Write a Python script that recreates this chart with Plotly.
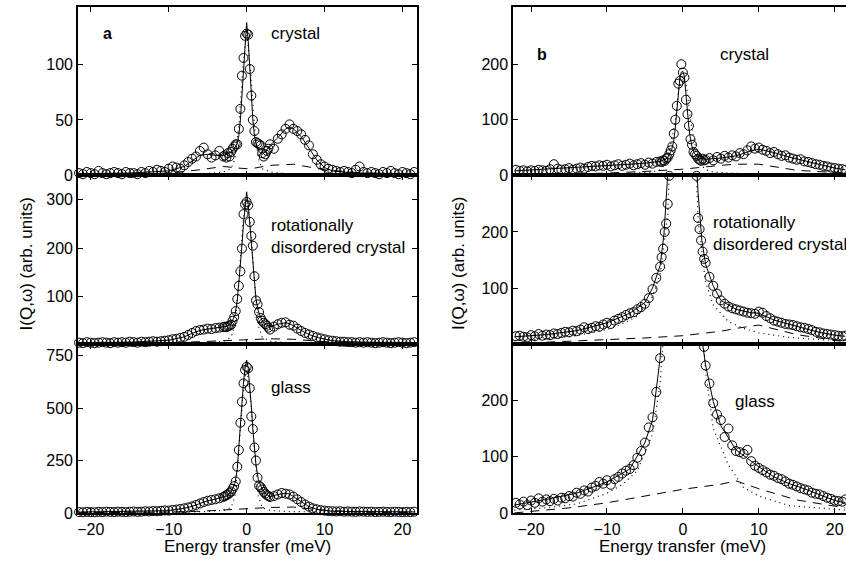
import plotly.graph_objects as go

# ---------------- energy grids (meV) ----------------
XA = [-21.5, -21, -20.5, -20, -19.5, -19, -18.5, -18, -17.5, -17, -16.5, -16, -15.5, -15, -14.5, -14,
      -13.5, -13, -12.5, -12, -11.5, -11, -10.5, -10, -9.5, -9, -8.5, -8, -7.5, -7, -6.5, -6, -5.5, -5,
      -4.5, -4, -3.5, -3,
      -2.8, -2.6, -2.4, -2.2, -2, -1.8, -1.6, -1.4, -1.2, -1, -0.8, -0.6, -0.4, -0.2, 0, 0.2, 0.4, 0.6,
      0.8, 1, 1.2, 1.4, 1.6, 1.8, 2, 2.2, 2.4, 2.6, 2.8,
      3, 3.5, 4, 4.5, 5, 5.5, 6, 6.5, 7, 7.5, 8, 8.5, 9, 9.5, 10, 10.5, 11, 11.5, 12, 12.5, 13, 13.5,
      14, 14.5, 15, 15.5, 16, 16.5, 17, 17.5, 18, 18.5, 19, 19.5, 20, 20.5, 21, 21.5]
XB = [-22, -21.5, -21, -20.5, -20, -19.5, -19, -18.5, -18, -17.5, -17, -16.5, -16, -15.5, -15, -14.5,
      -14, -13.5, -13, -12.5, -12, -11.5, -11, -10.5, -10, -9.5, -9, -8.5, -8, -7.5, -7, -6.5, -6,
      -5.5, -5, -4.5, -4, -3.5, -3,
      -2.8, -2.6, -2.4, -2.2, -2, -1.8, -1.6, -1.4, -1.2, -1, -0.8, -0.6, -0.4, -0.2, 0, 0.2, 0.4, 0.6,
      0.8, 1, 1.2, 1.4, 1.6, 1.8, 2, 2.2, 2.4, 2.6, 2.8,
      3, 3.5, 4, 4.5, 5, 5.5, 6, 6.5, 7, 7.5, 8, 8.5, 9, 9.5, 10, 10.5, 11, 11.5, 12, 12.5, 13, 13.5,
      14, 14.5, 15, 15.5, 16, 16.5, 17, 17.5, 18, 18.5, 19, 19.5, 20, 20.5, 21, 21.4]

# ---------------- measured intensities ----------------
A_CRYSTAL = [2, 1, 3, 2, 1, 4, 2, 1, 2, 3, 2, 1, 3, 2, 2, 1, 3, 2, 4, 3,
             5, 4, 3, 6, 8, 7, 6, 9, 12, 15, 17, 22, 25, 19, 16, 18, 22, 17,
             18, 16, 20, 17, 21, 24, 26, 28, 28, 42, 60, 90, 106, 126, 128, 127, 96, 72, 50, 40,
             30, 29, 28, 27, 20, 17, 19, 22, 24,
             28, 24, 33, 37, 42, 46, 42, 40, 37, 32, 27, 19, 14, 10, 8, 6, 5, 4, 3, 4,
             3, 2, 5, 8, 3, 2, 3, 2, 1, 3, 2, 4, 2, 1, 3, 2, 1, 3]
A_ROT = [5, 4, 6, 5, 4, 5, 6, 5, 4, 6, 5, 6, 5, 7, 6, 5, 7, 6, 7, 8,
         7, 8, 9, 10, 12, 13, 15, 17, 21, 25, 29, 31, 32, 34, 33, 35, 36, 37,
         38, 37, 39, 40, 42, 50, 58, 70, 95, 122, 152, 199, 270, 290, 295, 288, 254, 225, 205, 142,
         92, 84, 68, 56, 50, 46, 43, 40, 36,
         32, 38, 43, 46, 47, 42, 40, 34, 29, 25, 22, 19, 16, 14, 12, 10, 9, 8, 7, 7,
         6, 6, 5, 6, 5, 6, 5, 4, 5, 6, 5, 4, 5, 6, 5, 4, 5, 6]
A_GLASS = [4, 3, 5, 4, 3, 5, 4, 6, 5, 4, 6, 5, 4, 6, 7, 5, 6, 8, 7, 9,
           8, 10, 12, 11, 14, 16, 19, 22, 26, 31, 38, 45, 52, 58, 62, 65, 70, 76,
           80, 85, 88, 95, 102, 115, 128, 150, 220, 300, 430, 530, 618, 682, 697, 690, 595, 460, 400, 312,
           250, 168, 130, 123, 112, 100, 92, 85, 80,
           76, 80, 88, 95, 92, 88, 78, 65, 52, 40, 30, 22, 17, 13, 11, 9, 8, 7, 8, 6,
           7, 6, 5, 7, 6, 5, 6, 4, 5, 6, 5, 4, 6, 5, 4, 5, 4, 6]
B_CRYSTAL = [10, 8, 9, 7, 9, 8, 10, 9, 8, 11, 20, 12, 10, 11, 13, 10, 12, 14, 12, 15,
             17, 16, 18, 17, 19, 16, 18, 20, 17, 19, 21, 18, 20, 22, 19, 23, 21, 24, 25,
             24, 27, 26, 30, 32, 38, 45, 52, 75, 100, 125, 165, 170, 200, 185, 176, 136, 110, 89, 65,
             55, 42, 38, 35, 30, 28, 26, 30, 27,
             28, 31, 27, 33, 30, 35, 32, 36, 34, 40, 38, 45, 52, 48, 50, 46, 44, 40, 42, 38,
             35, 36, 32, 30, 28, 29, 25, 24, 22, 20, 19, 17, 16, 14, 13, 12, 11, 10]
B_ROT = [14, 15, 13, 12, 16, 14, 18, 15, 17, 16, 19, 18, 20, 22, 21, 24, 23, 26, 30, 27,
         29, 32, 31, 35, 38, 36, 42, 45, 48, 52, 55, 57, 62, 66, 72, 82, 98, 118, 138,
         155, 170, 200, 215, 250, 300, 380, 450, 540, 640, 760, 880, 980, 1040, 1060, 1040, 980, 880, 760, 640,
         540, 450, 380, 300, 225, 205, 185, 165, 152,
         145, 120, 104, 90, 78, 72, 67, 64, 62, 60, 58, 56, 55, 54, 58, 56, 50, 46, 42, 40,
         38, 36, 35, 34, 32, 30, 29, 27, 25, 22, 21, 19, 18, 17, 16, 15, 14, 15]
B_GLASS = [18, 15, 20, 14, 22, 18, 26, 20, 24, 21, 25, 22, 27, 26, 30, 29, 36, 34, 40, 38,
           45, 48, 55, 52, 58, 50, 60, 64, 70, 75, 78, 85, 98, 110, 125, 152, 170, 215, 275,
           310, 350, 400, 460, 530, 610, 700, 800, 900, 1000, 1100, 1200, 1280, 1330, 1350, 1330, 1280, 1200, 1100, 1000,
           900, 800, 700, 610, 530, 460, 400, 340, 295,
           262, 230, 195, 175, 165, 135, 150, 120, 110, 108, 105, 112, 92, 84, 80, 76, 72, 68, 66, 62,
           60, 56, 52, 50, 47, 44, 42, 40, 36, 34, 33, 30, 27, 25, 22, 21, 20, 24]

# ---------------- fits (solid) ----------------
XFA = [-21.5, -15, -10, -8, -7, -6, -5, -4, -3, -2.5, -2, -1.5, -1.2, -1, -0.8, -0.6, -0.4, -0.2, 0,
       0.2, 0.4, 0.6, 0.8, 1, 1.2, 1.5, 2, 2.5, 3, 4, 5, 5.5, 6, 7, 8, 9, 10, 11, 13, 15, 21.5]
FA_CRYSTAL = [1.5, 2, 4, 8, 13, 18, 19, 18, 18, 19, 21, 25, 29, 36, 50, 72, 98, 122, 138, 122, 98, 72, 50,
              36, 29, 22, 19, 22, 27, 34, 42, 44, 42, 35, 25, 14, 7, 4, 2.5, 2, 1.5]
FA_ROT = [5, 6, 10, 17, 24, 30, 33, 35, 37, 39, 44, 62, 92, 125, 165, 205, 250, 290, 316, 290, 250, 210, 170,
          130, 95, 70, 50, 42, 38, 43, 46, 44, 40, 30, 22, 16, 12, 9, 7, 6, 5]
FA_GLASS = [4, 6, 11, 22, 31, 45, 58, 66, 76, 82, 100, 140, 210, 310, 430, 540, 625, 690, 729, 690, 610, 510,
            400, 310, 230, 160, 112, 90, 78, 88, 94, 90, 78, 52, 30, 17, 11, 8, 7, 6, 5]
XFB = [-22.2, -18, -14, -10, -7, -5, -4, -3, -2.5, -2, -1.5, -1.2, -1.0, -0.8, -0.6, -0.4, -0.2, 0, 0.2,
       0.4, 0.6, 0.8, 1.0, 1.2, 1.5, 2, 2.5, 3, 4, 5, 7, 9, 10, 12, 14, 16, 18, 20, 21.4]
FB_CRYSTAL = [8, 11, 14, 18, 20, 22, 23, 25, 28, 32, 45, 62, 85, 115, 150, 175, 186, 187, 178, 145, 110, 85,
              65, 52, 40, 32, 30, 29, 30, 31, 35, 44, 47, 41, 33, 26, 19, 13, 10]
FB_ROT = [13, 17, 24, 38, 55, 74, 100, 140, 195, 270, 410, 530, 640, 760, 880, 980, 1040, 1060, 1040, 980,
          880, 760, 640, 530, 410, 270, 185, 142, 104, 78, 62, 56, 55, 43, 35, 28, 21, 16, 14]
FB_GLASS = [14, 24, 35, 55, 78, 125, 165, 275, 380, 530, 750, 900, 1000, 1100, 1200, 1280, 1330, 1350, 1330,
            1280, 1200, 1100, 1000, 900, 750, 530, 310, 262, 198, 155, 112, 92, 82, 64, 52, 43, 32, 22, 18]

# ---------------- broad component (dashed) ----------------
XDA = [-21.5, -15, -10, -6, -3, -1, 0, 1, 3, 6, 10, 15, 21.5]
DA_CRYSTAL = [0.5, 1, 2, 5, 8, 6.5, 6, 6.5, 9, 10, 5, 2, 1]
DA_ROT = [3, 4, 5, 7, 9, 10, 10, 11, 13, 12, 7, 4, 3]
DA_GLASS = [1, 2, 4, 8, 14, 17, 18, 20, 26, 28, 12, 4, 2]
XDB = [-22.2, -15, -10, -5, 0, 5, 7, 10, 15, 21.4]
DB_CRYSTAL = [0, 2, 4, 7, 11, 18, 20, 20, 9, 4]
DB_ROT = [1, 5, 8, 11, 15, 23, 28, 34, 17, 4]
DB_GLASS = [0, 9, 18, 30, 42, 51, 57, 43, 23, 9]

# ---------------- central component (dotted) ----------------
XPA = [-21.5, -15, -10, -7, -5, -3, -2, -1.5, -1, -0.5, 0, 0.5, 1, 1.5, 2, 3, 5, 7, 10, 15, 21.5]
PA_CRYSTAL = [0.2, 0.3, 0.5, 1, 1.5, 3, 6, 15, 45, 95, 130, 95, 45, 15, 6, 3, 1.5, 1, 0.5, 0.3, 0.2]
PA_ROT = [3, 3, 3.5, 4, 5, 8, 16, 40, 130, 250, 300, 250, 130, 40, 16, 8, 5, 4, 3.5, 3, 3]
PA_GLASS = [3, 3, 4, 5, 7, 12, 25, 80, 300, 550, 700, 550, 300, 80, 25, 12, 7, 5, 4, 3, 3]
XPB = [-22.2, -18, -14, -10, -8, -6, -4, -3, -2, -1, -0.5, 0, 0.5, 1, 2, 3, 4, 6, 8, 10, 14, 18, 21.4]
PB_CRYSTAL = [1, 1, 2, 2, 3, 4, 6, 10, 25, 100, 160, 175, 160, 100, 25, 10, 6, 4, 3, 2, 2, 1, 1]
PB_ROT = [6, 9, 15, 26, 36, 50, 85, 125, 230, 600, 900, 1000, 900, 600, 220, 110, 70, 40, 28, 20, 12, 8, 6]
PB_GLASS = [5, 9, 16, 35, 50, 75, 140, 230, 420, 1000, 1250, 1340, 1250, 1000, 450, 250, 150, 85, 45, 30, 13, 8, 5]

PHASES = ["crystal", "rotationally<br>disordered crystal", "glass"]
X_TICKS = [-20, -10, 0, 10, 20]
Y_TICKS_A = [[0, 50, 100], [100, 200, 300], [0, 250, 500, 750]]
Y_TICKS_B = [[0, 100, 200], [100, 200], [0, 100, 200]]
Y_RANGE_A = [[0, 152], [2, 350], [0, 805]]
Y_RANGE_B = [[0, 303], [0, 301], [0, 300]]
X_RANGE_A = [-21.65, 21.8]
X_RANGE_B = [-22.37, 21.49]

W, H = 846, 563
H_EFF = 553  # height the page is actually drawn at in the photograph
FONT = "Liberation Sans, Arial, Helvetica, sans-serif"


def px(x):
    return x / W


def py(y):
    return 1 - y / H_EFF


fig = go.Figure()

panels = [
    (1, XA, A_CRYSTAL, XFA, FA_CRYSTAL, XDA, DA_CRYSTAL, XPA, PA_CRYSTAL),
    (2, XA, A_ROT, XFA, FA_ROT, XDA, DA_ROT, XPA, PA_ROT),
    (3, XA, A_GLASS, XFA, FA_GLASS, XDA, DA_GLASS, XPA, PA_GLASS),
    (4, XB, B_CRYSTAL, XFB, FB_CRYSTAL, XDB, DB_CRYSTAL, XPB, PB_CRYSTAL),
    (5, XB, B_ROT, XFB, FB_ROT, XDB, DB_ROT, XPB, PB_ROT),
    (6, XB, B_GLASS, XFB, FB_GLASS, XDB, DB_GLASS, XPB, PB_GLASS),
]

for idx, xd, yd, xf, yf, xdash, ydash, xdot, ydot in panels:
    xa = "x" if idx == 1 else f"x{idx}"
    ya = "y" if idx == 1 else f"y{idx}"
    fig.add_trace(go.Scatter(x=xdot, y=ydot, mode="lines", xaxis=xa, yaxis=ya,
                             line=dict(color="black", width=1.2, dash="1px,4px"), showlegend=False))
    fig.add_trace(go.Scatter(x=xdash, y=ydash, mode="lines", xaxis=xa, yaxis=ya,
                             line=dict(color="black", width=1, dash="9px,7px"), showlegend=False))
    fig.add_trace(go.Scatter(x=xf, y=yf, mode="lines", xaxis=xa, yaxis=ya,
                             line=dict(color="black", width=1), showlegend=False))
    fig.add_trace(go.Scatter(x=xd, y=yd, mode="markers", xaxis=xa, yaxis=ya, cliponaxis=False,
                             marker=dict(symbol="circle-open", size=9, color="black",
                                         line=dict(width=1, color="black")),
                             showlegend=False))

y_domains = [[py(175), py(7)], [py(343.5), py(175)], [py(512), py(343.5)]]
xa_dom = [px(77), px(416)]
xb_dom = [px(512.7), 1.0]

layout = dict(width=W, height=H, margin=dict(l=0, r=0, t=0, b=0),
              paper_bgcolor="white", plot_bgcolor="white",
              font=dict(family=FONT, size=16, color="black"))

common_x = dict(showline=True, linecolor="black", linewidth=1.5, mirror="ticks", ticks="inside",
                ticklen=5, tickwidth=1, tickcolor="black", showgrid=False, zeroline=False,
                tickvals=X_TICKS, tickfont=dict(size=16, family=FONT), ticklabelstandoff=1)
common_y = dict(showline=True, linecolor="black", linewidth=1.5, ticks="inside",
                ticklen=5, tickwidth=1, tickcolor="black", showgrid=False, zeroline=False,
                tickfont=dict(size=16, family=FONT), ticklabelstandoff=0)

for k in range(6):
    idx = k + 1
    col_a = k < 3
    row = k % 3
    xname = "xaxis" if idx == 1 else f"xaxis{idx}"
    yname = "yaxis" if idx == 1 else f"yaxis{idx}"
    yref = "y" if idx == 1 else f"y{idx}"
    xref = "x" if idx == 1 else f"x{idx}"
    layout[xname] = dict(common_x, domain=xa_dom if col_a else xb_dom,
                         range=X_RANGE_A if col_a else X_RANGE_B,
                         anchor=yref, showticklabels=(row == 2))
    layout[yname] = dict(common_y, domain=y_domains[row],
                         range=(Y_RANGE_A if col_a else Y_RANGE_B)[row],
                         tickvals=(Y_TICKS_A if col_a else Y_TICKS_B)[row],
                         mirror="ticks" if col_a else False,
                         anchor=xref)

fig.update_layout(**layout)

ann = []
ann.append(dict(x=px(100), y=py(33), text="<b>a</b>", xanchor="left", yanchor="middle"))
ann.append(dict(x=px(535), y=py(54), text="<b>b</b>", xanchor="left", yanchor="middle"))
pos_a = [(268, 33), (268, 236), (268, 387)]
pos_b = [(718, 54), (711, 233), (733, 401)]
for lab, (x0, y0) in zip(PHASES, pos_a):
    ann.append(dict(x=px(x0), y=py(y0), text=lab, xanchor="left", yanchor="middle", align="left"))
for lab, (x0, y0) in zip(PHASES, pos_b):
    ann.append(dict(x=px(x0), y=py(y0), text=lab, xanchor="left", yanchor="middle", align="left"))
for xc in (246.5, 682.5):
    ann.append(dict(x=px(xc), y=py(546), text="Energy transfer (meV)", xanchor="center", yanchor="middle"))
for xc in (26, 458):
    ann.append(dict(x=px(xc), y=py(263), text="I(Q,ω) (arb. units)", textangle=-90,
                    xanchor="center", yanchor="middle"))

for a in ann:
    a.update(xref="paper", yref="paper", showarrow=False, font=dict(family=FONT, size=17, color="black"))
    if a["text"].startswith("<b>"):
        a["font"]["size"] = 16

fig.update_layout(annotations=ann)
post = ("var s=document.createElement('style');"
        "s.innerHTML='html,body{margin:0;padding:0;overflow:hidden;width:846px;height:563px;}';"
        "document.head.appendChild(s);")
fig.write_html("out.html", config={"displayModeBar": False, "responsive": False}, post_script=post)
